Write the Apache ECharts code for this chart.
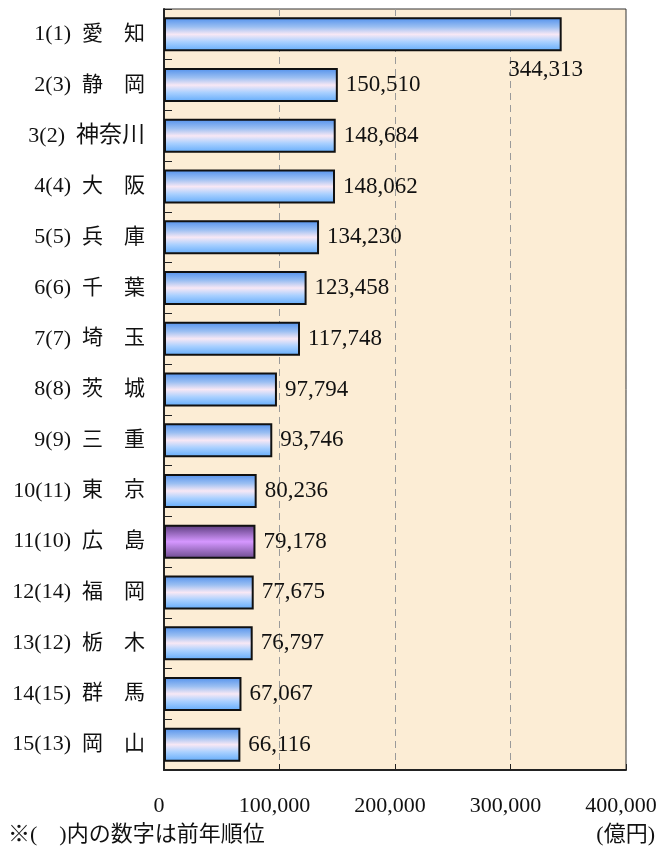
<!DOCTYPE html>
<html>
<head>
<meta charset="utf-8">
<script src="https://cdn.jsdelivr.net/npm/echarts@6/dist/echarts.min.js"></script>
<style>
  html, body { margin: 0; padding: 0; background: #fff; }
  #chart { width: 662px; height: 848px; }
</style>
</head>
<body>
<div id="chart"></div>
<script>
const ranks = ['1(1)', '2(3)', '3(2)', '4(4)', '5(5)', '6(6)', '7(7)', '8(8)', '9(9)', '10(11)', '11(10)', '12(14)', '13(12)', '14(15)', '15(13)']
const prefectures = ['愛　知', '静　岡', '神奈川', '大　阪', '兵　庫', '千　葉', '埼　玉', '茨　城', '三　重', '東　京', '広　島', '福　岡', '栃　木', '群　馬', '岡　山']
const values = [344313, 150510, 148684, 148062, 134230, 123458, 117748, 97794, 93746, 80236, 79178, 77675, 76797, 67067, 66116]
const xTicks = [0, 100000, 200000, 300000, 400000]
const highlightIndex = 10

const serif = '"Liberation Serif", "DejaVu Serif", "Noto Sans CJK JP", serif'
const fmt = v => v.toLocaleString('en-US')

const blueFill = new echarts.graphic.LinearGradient(0, 0, 0, 1, [
  { offset: 0, color: '#4f8fec' },
  { offset: 0.28, color: '#9bbff2' },
  { offset: 0.5, color: '#f8e8f5' },
  { offset: 0.72, color: '#a9d0ff' },
  { offset: 1, color: '#60aafa' }
])
const purpleFill = new echarts.graphic.LinearGradient(0, 0, 0, 1, [
  { offset: 0, color: '#58397a' },
  { offset: 0.5, color: '#d597ff' },
  { offset: 1, color: '#6a4a8c' }
])

const chart = echarts.init(document.getElementById('chart'))

chart.setOption({
  backgroundColor: '#ffffff',
  animation: false,
  textStyle: { fontFamily: serif },
  grid: {
    left: 164, right: 36, top: 9, bottom: 78,
    show: true,
    backgroundColor: '#fcedd5',
    borderColor: '#333',
    borderWidth: 1
  },
  xAxis: {
    type: 'value',
    min: xTicks[0],
    max: xTicks[xTicks.length - 1],
    interval: 100000,
    axisLine: { show: true, lineStyle: { color: '#222', width: 2 } },
    axisTick: { show: true, inside: true, length: 6, lineStyle: { color: '#222' } },
    axisLabel: {
      color: '#111', fontSize: 22, fontFamily: serif, margin: 25,
      padding: [0, 10, 0, 0],
      formatter: fmt
    },
    splitLine: { show: true, lineStyle: { color: '#9a9a9a', type: [7, 5], width: 1 } }
  },
  yAxis: {
    type: 'category',
    inverse: true,
    data: ranks.map((r, i) => r + '|' + prefectures[i]),
    axisLine: { show: true, lineStyle: { color: '#222', width: 2 } },
    axisTick: { show: true, inside: true, length: 8, lineStyle: { color: '#222' } },
    axisLabel: {
      color: '#111', fontFamily: serif, margin: 19,
      formatter: v => {
        const [r, n] = v.split('|')
        return '{r|' + r + '}{' + (n.indexOf('　') >= 0 ? 'n' : 'm') + '|' + n + '}'
      },
      rich: {
        r: { fontSize: 22, fontFamily: serif, color: '#111', padding: [0, 11, 0, 0] },
        n: { fontSize: 21, fontFamily: serif, color: '#111' },
        m: { fontSize: 23, fontFamily: serif, color: '#111' }
      }
    },
    splitLine: { show: false }
  },
  series: [
    {
      type: 'bar',
      barWidth: 34,
      data: values.map((v, i) => {
        const item = {
          value: v,
          itemStyle: { color: i === highlightIndex ? purpleFill : blueFill }
        }
        if (i === 0) {
          item.label = {
            position: ['100%', '100%'],
            offset: [-16, 19],
            align: 'center',
            verticalAlign: 'middle'
          }
        }
        return item
      }),
      itemStyle: { borderColor: '#111', borderWidth: 2 },
      label: {
        show: true,
        position: 'right',
        distance: 8,
        color: '#111',
        fontSize: 23,
        fontFamily: serif,
        formatter: p => fmt(p.value)
      }
    }
  ],
  graphic: [
    {
      type: 'text',
      left: 8,
      top: 824,
      style: { text: '※(　)内の数字は前年順位', fontSize: 22, fill: '#111', fontFamily: serif }
    },
    {
      type: 'text',
      right: 7,
      top: 824,
      style: { text: '(億円)', fontSize: 22, fill: '#111', fontFamily: serif }
    }
  ]
})

window.addEventListener('resize', () => chart.resize())
</script>
</body>
</html>
